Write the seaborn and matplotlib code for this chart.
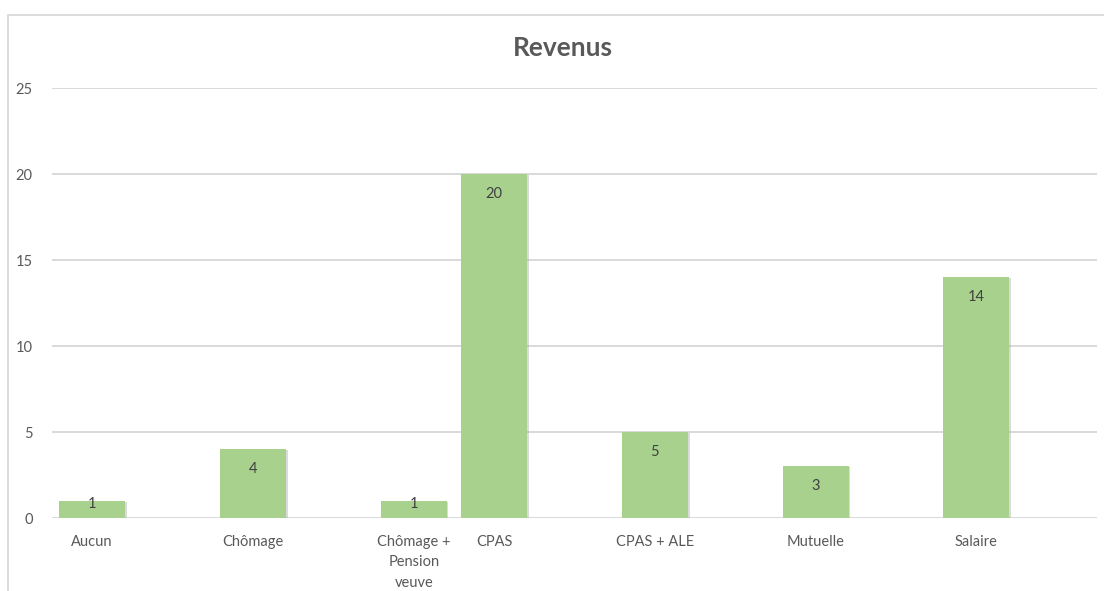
import matplotlib
matplotlib.use("Agg")
import matplotlib.pyplot as plt
import matplotlib.patheffects as pe
import seaborn as sns
import pandas as pd
import numpy as np
from matplotlib.lines import Line2D

# ---- data ----
categories = ["Aucun", "Chômage", "Chômage +\nPension\nveuve", "CPAS",
              "CPAS + ALE", "Mutuelle", "Salaire"]
values = [1, 4, 1, 20, 5, 3, 14]
# category axis of the original chart, including its empty categories
slots = ["Aucun", " ", "Chômage", "  ", "Chômage +\nPension\nveuve", "CPAS",
         "   ", "CPAS + ALE", "    ", "Mutuelle", "     ", "Salaire", "      "]
y_ticks = [0, 5, 10, 15, 20, 25]
title = "Revenus"

sns.set_theme(style="white")
plt.rcParams["font.family"] = ["Lato", "DejaVu Sans"]

BAR = "#a9d18e"
GRID = "#d9d9d9"
TXT = "#595959"

fig = plt.figure(figsize=(11.04, 5.91), dpi=100)
ax = fig.add_axes([52 / 1104, 1 - 518 / 591, (1097 - 52) / 1104, (518 - 88) / 591])

df = pd.DataFrame({"cat": categories, "val": values})
sns.barplot(data=df, x="cat", y="val", order=slots, color=BAR, saturation=1,
            width=0.82, linewidth=0, ax=ax, zorder=3)
for p in ax.patches:
    p.set_path_effects([pe.SimplePatchShadow(offset=(1.2, -0.6), shadow_rgbFace="#9a9a9a",
                                             alpha=0.35), pe.Normal()])

ax.set_ylim(0, 25)
ax.set_xlim(-0.5, len(slots) - 0.5)
ax.set_yticks(y_ticks)
ax.yaxis.grid(True, color=GRID, linewidth=1.4, zorder=0)
ax.set_axisbelow(True)
for s in ax.spines.values():
    s.set_visible(False)
ax.set_xlabel("")
ax.set_ylabel("")
ax.tick_params(axis="y", length=0, pad=14, labelsize=10.5, labelcolor=TXT)
ax.tick_params(axis="x", length=0, pad=12, labelsize=10.5, labelcolor=TXT)
for lab in ax.get_xticklabels():
    lab.set_linespacing(1.62)
    lab.set_verticalalignment("top")

# data labels (inside end)
px_per_unit = (518 - 88) / 25.0
for c, v in zip(categories, values):
    xi = slots.index(c)
    bar_px = v * px_per_unit
    off = 20 if bar_px > 38 else 3
    ax.annotate(str(v), xy=(xi, v), xytext=(0, -off), textcoords="offset pixels",
                ha="center", va="center", fontsize=10.5, color="#404040", zorder=5)

fig.text(563 / 1104, 1 - 48 / 591, title, ha="center", va="center",
         fontsize=19, fontweight="bold", color=TXT)

# chart area border (top and left, as in the cropped screenshot)
fig.add_artist(Line2D([8 / 1104, 1], [1 - 15 / 591, 1 - 15 / 591],
                      transform=fig.transFigure, color=GRID, linewidth=1.3))
fig.add_artist(Line2D([8 / 1104, 8 / 1104], [0, 1 - 15 / 591],
                      transform=fig.transFigure, color=GRID, linewidth=1.3))

fig.savefig("out.png", dpi=100, facecolor="white")
